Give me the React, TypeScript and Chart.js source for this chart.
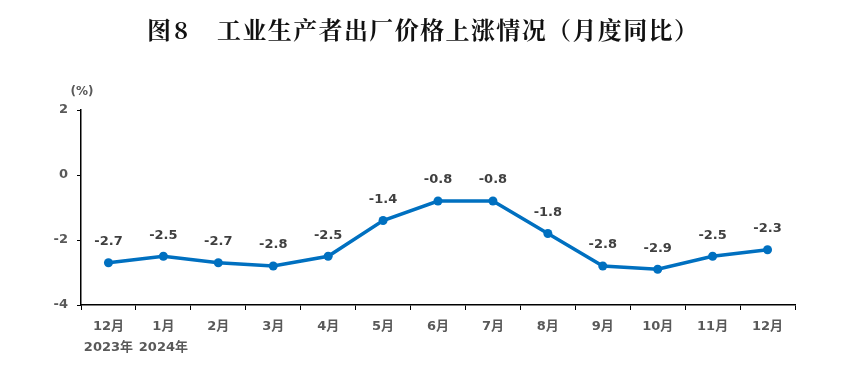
import React, { useEffect, useRef } from "react";
import { Chart, registerables } from "chart.js";

Chart.register(...registerables);

const titlePrefix = "图";
const titleNumber = "8";
const titleMain = "工业生产者出厂价格上涨情况（月度同比）";
const unitLabel = "(%)";
const categories: (string | string[])[] = [
  ["12月", "2023年"],
  ["1月", "2024年"],
  "2月",
  "3月",
  "4月",
  "5月",
  "6月",
  "7月",
  "8月",
  "9月",
  "10月",
  "11月",
  "12月",
];
const values = [-2.7, -2.5, -2.7, -2.8, -2.5, -1.4, -0.8, -0.8, -1.8, -2.8, -2.9, -2.5, -2.3];
const yMin = -4;
const yMax = 2;
const yStep = 2;

const LINE_COLOR = "#0070C0";
const TEXT_COLOR = "#595959";
const LABEL_FONT = '"DejaVu Sans", "Noto Sans CJK SC", sans-serif';
const TITLE_FONT = 'bold 24px "Noto Serif CJK SC", "Noto Sans CJK SC", serif';

export default function App() {
  const ref = useRef<HTMLCanvasElement | null>(null);

  useEffect(() => {
    if (!ref.current) return;
    const extras = {
      id: "extras",
      afterDatasetsDraw(chart: any) {
        const ctx = chart.ctx;
        const meta = chart.getDatasetMeta(0);
        ctx.save();
        ctx.fillStyle = "#404040";
        ctx.font = `bold 13px ${LABEL_FONT}`;
        ctx.textAlign = "center";
        ctx.textBaseline = "middle";
        meta.data.forEach((pt: any, i: number) => {
          ctx.fillText(values[i].toFixed(1), pt.x, pt.y - 21);
        });
        ctx.restore();
      },
      afterDraw(chart: any) {
        const ctx = chart.ctx;
        ctx.save();
        ctx.fillStyle = "#111";
        ctx.font = TITLE_FONT;
        ctx.textAlign = "left";
        ctx.textBaseline = "middle";
        const ty = 30;
        ctx.fillText(titlePrefix, 147, ty);
        ctx.fillText(titleNumber, 174, ty);
        // main title spread between x=217 and x=698
        const chars = Array.from(titleMain);
        const widths = chars.map((c) => ctx.measureText(c).width);
        const total = widths.reduce((a, b) => a + b, 0);
        const gap = (698 - 217 - total) / (chars.length - 1);
        let x = 217;
        chars.forEach((c, i) => {
          ctx.fillText(c, x, ty);
          x += widths[i] + gap;
        });
        ctx.fillStyle = TEXT_COLOR;
        ctx.textAlign = "center";
        ctx.font = `bold 12px ${LABEL_FONT}`;
        ctx.fillText(unitLabel, 82, 92);
        ctx.restore();
      },
    };
    const chart = new Chart(ref.current, {
      type: "line",
      data: {
        labels: categories,
        datasets: [
          {
            data: values,
            borderColor: LINE_COLOR,
            backgroundColor: LINE_COLOR,
            borderWidth: 3.5,
            pointRadius: 4.5,
            pointBackgroundColor: LINE_COLOR,
            pointBorderWidth: 0,
            tension: 0,
          },
        ],
      },
      options: {
        animation: false,
        responsive: false,
        layout: { padding: { top: 110, right: 61, left: 0, bottom: 0 } },
        plugins: {
          legend: { display: false },
          tooltip: { enabled: false },
          title: { display: false },
        },
        scales: {
          x: {
            offset: true,
            grid: {
              offset: true,
              drawOnChartArea: false,
              drawTicks: true,
              tickLength: 5,
              color: "#000",
            },
            border: { display: true, color: "#000", width: 1.5 },
            ticks: {
              color: TEXT_COLOR,
              font: { family: LABEL_FONT, size: 13, weight: "bold", lineHeight: 1.55 },
              padding: 7,
              maxRotation: 0,
              autoSkip: false,
            },
            afterFit(scale: any) {
              scale.height = 65;
            },
          },
          y: {
            min: yMin,
            max: yMax,
            grid: {
              drawOnChartArea: false,
              drawTicks: true,
              tickLength: 4,
              color: "#000",
            },
            border: { display: true, color: "#000", width: 1.5 },
            ticks: {
              stepSize: yStep,
              color: TEXT_COLOR,
              font: { family: LABEL_FONT, size: 13, weight: "bold" },
              padding: 9,
            },
            afterFit(scale: any) {
              scale.width = 81;
            },
          },
        },
      },
      plugins: [extras],
    } as any);
    return () => chart.destroy();
  }, []);

  return (
    <div style={{ position: "fixed", left: 0, top: 0, width: 856, height: 370, background: "#fff" }}>
      <canvas ref={ref} width={856} height={370} style={{ width: 856, height: 370 }} />
    </div>
  );
}
